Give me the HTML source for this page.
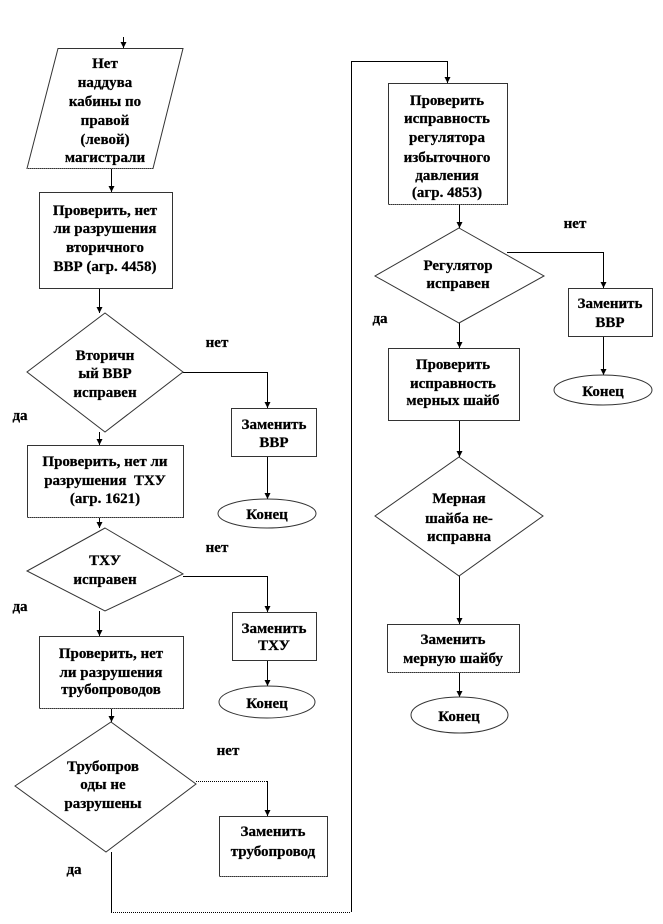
<!DOCTYPE html>
<html><head><meta charset="utf-8"><style>
html,body{margin:0;padding:0;background:#fff;}
svg{display:block;}
text{font-family:"Liberation Serif","DejaVu Serif",serif;font-weight:bold;font-size:15px;fill:#000;stroke:#000;stroke-width:0.25;text-anchor:middle;}
.s{fill:#fff;stroke:#333;stroke-width:1;}
.l{fill:none;stroke:#000;stroke-width:1;}
.d{fill:none;stroke:#000;stroke-width:1;stroke-dasharray:1,1;}
.b{fill:none;stroke:#777;stroke-width:1;stroke-dasharray:1,1;}
.a{fill:#000;}
</style></head><body>
<svg width="663" height="924" viewBox="0 0 663 924" xmlns="http://www.w3.org/2000/svg">
<!-- connectors -->
<path class="l" d="M123.5 37V48"/><polygon class="a" points="120.5,42 126.5,42 123.5,48"/>
<path class="l" d="M111.5 168V192"/><polygon class="a" points="108.5,186 114.5,186 111.5,192"/>
<path class="l" d="M99.5 288V313"/><polygon class="a" points="96.5,307 102.5,307 99.5,313"/>
<path class="l" d="M183 372.5H267.5V408"/><polygon class="a" points="264.5,402 270.5,402 267.5,408"/>
<path class="l" d="M267.5 456V499"/><polygon class="a" points="264.5,493 270.5,493 267.5,499"/>
<path class="l" d="M99.5 432V445"/><polygon class="a" points="96.5,439 102.5,439 99.5,445"/>
<path class="l" d="M99.5 517V528"/><polygon class="a" points="96.5,522 102.5,522 99.5,528"/>
<path class="l" d="M183 576.5H267.5V612"/><polygon class="a" points="264.5,606 270.5,606 267.5,612"/>
<path class="l" d="M99.5 611V636"/><polygon class="a" points="96.5,630 102.5,630 99.5,636"/>
<path class="l" d="M267.5 660V686"/><polygon class="a" points="264.5,680 270.5,680 267.5,686"/>
<path class="l" d="M111.5 708V722"/><polygon class="a" points="108.5,716 114.5,716 111.5,722"/>
<path class="d" d="M196 781.5H267.5"/><path class="l" d="M267.5 781V816"/><polygon class="a" points="264.5,810 270.5,810 267.5,816"/>
<path class="l" d="M111.5 852V912"/>
<path class="d" d="M111 912.5H351"/>
<path class="l" d="M351.5 912V61.5H447.5V83"/><polygon class="a" points="444.5,77 450.5,77 447.5,83"/>
<path class="l" d="M459.5 204V228"/><polygon class="a" points="456.5,222 462.5,222 459.5,228"/>
<path class="l" d="M507 252.5H603.5V288"/><polygon class="a" points="600.5,282 606.5,282 603.5,288"/>
<path class="l" d="M603.5 336V375"/><polygon class="a" points="600.5,369 606.5,369 603.5,375"/>
<path class="l" d="M459.5 323V348"/><polygon class="a" points="456.5,342 462.5,342 459.5,348"/>
<path class="l" d="M459.5 420V457"/><polygon class="a" points="456.5,451 462.5,451 459.5,457"/>
<path class="l" d="M459.5 576V624"/><polygon class="a" points="456.5,618 462.5,618 459.5,624"/>
<path class="l" d="M459.5 672V697"/><polygon class="a" points="456.5,691 462.5,691 459.5,697"/>

<!-- shapes -->
<polygon class="s" points="58,48.5 183,48.5 153,168.5 27,168.5"/>
<path class="b" d="M27 168.5H153"/>
<text x="105" y="68">Нет</text>
<text x="105" y="87">наддува</text>
<text x="105" y="106">кабины по</text>
<text x="105" y="125">правой</text>
<text x="105" y="144">(левой)</text>
<text x="105" y="162">магистрали</text>

<rect class="s" x="39.5" y="192.5" width="133" height="96"/>
<text x="105" y="215">Проверить, нет</text>
<text x="105" y="233">ли разрушения</text>
<text x="105" y="252">вторичного</text>
<text x="105" y="271">ВВР (агр. 4458)</text>

<polygon class="s" points="105,313 183,372 105,432 27,372"/>
<text x="105" y="360">Вторичн</text>
<text x="105" y="378">ый ВВР</text>
<text x="105" y="397">исправен</text>
<text x="217" y="347">нет</text>
<text x="20" y="420">да</text>

<rect class="s" x="231.5" y="408.5" width="85" height="48"/>
<text x="274" y="429">Заменить</text>
<text x="274" y="447">ВВР</text>
<ellipse class="s" cx="267" cy="513.5" rx="49" ry="14.5"/>
<text x="267" y="519">Конец</text>

<rect class="s" x="27.5" y="445.5" width="156" height="72"/>
<path class="b" d="M27 517.5H183"/>
<text x="105" y="466">Проверить, нет ли</text>
<text x="105" y="485">разрушения&#160; ТХУ</text>
<text x="105" y="503">(агр. 1621)</text>

<polygon class="s" points="105,528 183,574 105,611 27,571"/>
<text x="105" y="565">ТХУ</text>
<text x="105" y="584">исправен</text>
<text x="217" y="552">нет</text>
<text x="20" y="611">да</text>

<rect class="s" x="232.5" y="612.5" width="84" height="48"/>
<text x="274" y="633">Заменить</text>
<text x="274" y="650">ТХУ</text>
<ellipse class="s" cx="267" cy="702" rx="48" ry="16"/>
<text x="267" y="708">Конец</text>

<rect class="s" x="39.5" y="636.5" width="144" height="72"/>
<path class="b" d="M39 708.5H183"/>
<text x="111" y="658">Проверить, нет</text>
<text x="111" y="677">ли разрушения</text>
<text x="111" y="694">трубопроводов</text>

<polygon class="s" points="111,722 196,784 106,852 15,786"/>
<text x="103" y="771">Трубопров</text>
<text x="103" y="789">оды не</text>
<text x="103" y="808">разрушены</text>
<text x="228" y="755">нет</text>
<text x="74" y="874">да</text>

<rect class="s" x="219.5" y="816.5" width="108" height="60"/>
<path class="b" d="M219 876.5H327"/>
<text x="273" y="836">Заменить</text>
<text x="273" y="856">трубопровод</text>

<rect class="s" x="388.5" y="83.5" width="119" height="121"/>
<path class="b" d="M388 204.5H507"/>
<text x="447" y="105">Проверить</text>
<text x="447" y="123">исправность</text>
<text x="447" y="142">регулятора</text>
<text x="447" y="162">избыточного</text>
<text x="447" y="180">давления</text>
<text x="447" y="197">(агр. 4853)</text>

<polygon class="s" points="459,228 544,276 459,323 375,276"/>
<text x="458" y="270">Регулятор</text>
<text x="458" y="288">исправен</text>
<text x="575" y="228">нет</text>
<text x="380" y="323">да</text>

<rect class="s" x="568.5" y="288.5" width="84" height="48"/>
<text x="610" y="308">Заменить</text>
<text x="610" y="327">ВВР</text>
<ellipse class="s" cx="603" cy="390" rx="49" ry="15"/>
<text x="603" y="396">Конец</text>

<rect class="s" x="388.5" y="348.5" width="131" height="72"/>
<text x="453" y="369">Проверить</text>
<text x="453" y="388">исправность</text>
<text x="453" y="405">мерных шайб</text>

<polygon class="s" points="459,457 543,516 459,576 375,516"/>
<text x="459" y="503">Мерная</text>
<text x="459" y="523">шайба не-</text>
<text x="459" y="541">исправна</text>

<rect class="s" x="387.5" y="624.5" width="132" height="48"/>
<path class="b" d="M387 672.5H519"/>
<text x="453" y="644">Заменить</text>
<text x="453" y="663">мерную шайбу</text>
<ellipse class="s" cx="459.5" cy="715" rx="48.5" ry="18"/>
<text x="459" y="721">Конец</text>
</svg>
</body></html>
